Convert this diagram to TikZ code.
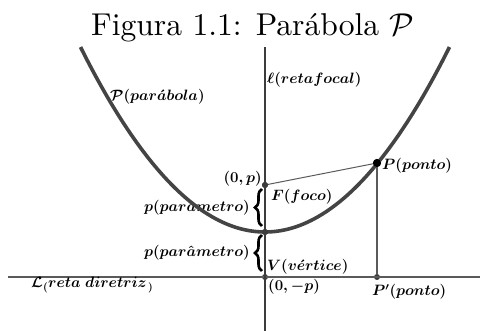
\documentclass[tikz,border=0pt]{standalone}
\usepackage{fix-cm}
\usepackage{graphicx}
\usepackage{amsmath}
\usetikzlibrary{decorations.pathreplacing}
\definecolor{curvec}{HTML}{444444}
\definecolor{axc}{HTML}{3C3C3C}
\definecolor{linec}{HTML}{5A5A5A}
\begin{document}
\begin{tikzpicture}[x=1pt,y=-1pt,
  lbl/.style={font=\fontsize{15}{18}\selectfont\boldmath, inner sep=0pt},
  ttl/.style={inner sep=0pt},
  dot/.style={circle, fill=axc, inner sep=0pt, minimum size=6pt},
  bigdot/.style={circle, fill=black, inner sep=0pt, minimum size=8pt},
  axis/.style={draw=axc, line width=1.8pt},
  dline/.style={draw=linec, line width=1.5pt},
  thinline/.style={draw=linec, line width=1pt},
  curve/.style={draw=curvec, line width=3.6pt},
  bracestyle/.style={draw=black, line width=2.6pt, decorate, decoration={brace, amplitude=7pt}}]
\useasboundingbox (0,0) rectangle (480,331);
% title
\node[ttl, anchor=base west] (title) at (91,36) {\resizebox{323pt}{!}{Figura 1.1: Parábola $\mathcal{P}$}};
% lines
\coordinate (dL) at (8,277);
\coordinate (dR) at (480,277);
\coordinate (axT) at (265,47);
\coordinate (axB) at (265,331);
\node[dot] (Fp) at (265,185) {};
\node[dot] (V) at (265,232) {};
\node[dot] (D) at (265,277) {};
\node[dot] (Pp) at (377,277) {};
\node[bigdot] (P) at (377,163) {};
\draw[dline] (dL) -- (dR);
\draw[axis] (axT) -- (axB);
\draw[thinline] (Fp) -- (P);
\draw[dline] (P) -- (Pp);
% braces
\coordinate (b1a) at (262,226);
\coordinate (b1b) at (262,189);
\coordinate (b2a) at (262,271);
\coordinate (b2b) at (262,235);
\draw[bracestyle] (b1a) -- (b1b);
\draw[bracestyle] (b2a) -- (b2b);
% labels
\node[lbl, anchor=west] (lPar) at (110,97) {$\mathcal{P}(par\acute{a}bola)$};
\node[lbl, anchor=west] (lEll) at (267,80) {$\ell(retafocal)$};
\node[lbl, anchor=west] (lP) at (382,166) {$P(ponto)$};
\node[lbl, anchor=east] (l0p) at (262,179) {$(0,p)$};
\node[lbl, anchor=west] (lF) at (271,197) {$F(foco)$};
\node[lbl, anchor=east] (lpar1) at (250,208) {$p(par\hat{a}metro)$};
\node[lbl, anchor=east] (lpar2) at (250,253) {$p(par\hat{a}metro)$};
\node[lbl, anchor=west] (lV) at (267,267) {$V(v\acute{e}rtice)$};
\node[lbl, anchor=west] (l0mp) at (268,287) {$(0,-p)$};
\node[lbl, anchor=west] (lPp) at (372,292) {$P'(ponto)$};
\node[lbl, anchor=west] (lL) at (31,285) {$\mathcal{L}_{(}reta\ diretriz_{\,)}$};
% parabola
\draw[curve] plot[domain=-13.6:13.6, samples=80, smooth] ({265+13.565*\x},{232-\x*\x});
% dots on top
\fill[axc] (Fp) circle (3pt);
\fill[axc] (V) circle (3pt);
\fill[black] (P) circle (4pt);
\end{tikzpicture}
\end{document}
